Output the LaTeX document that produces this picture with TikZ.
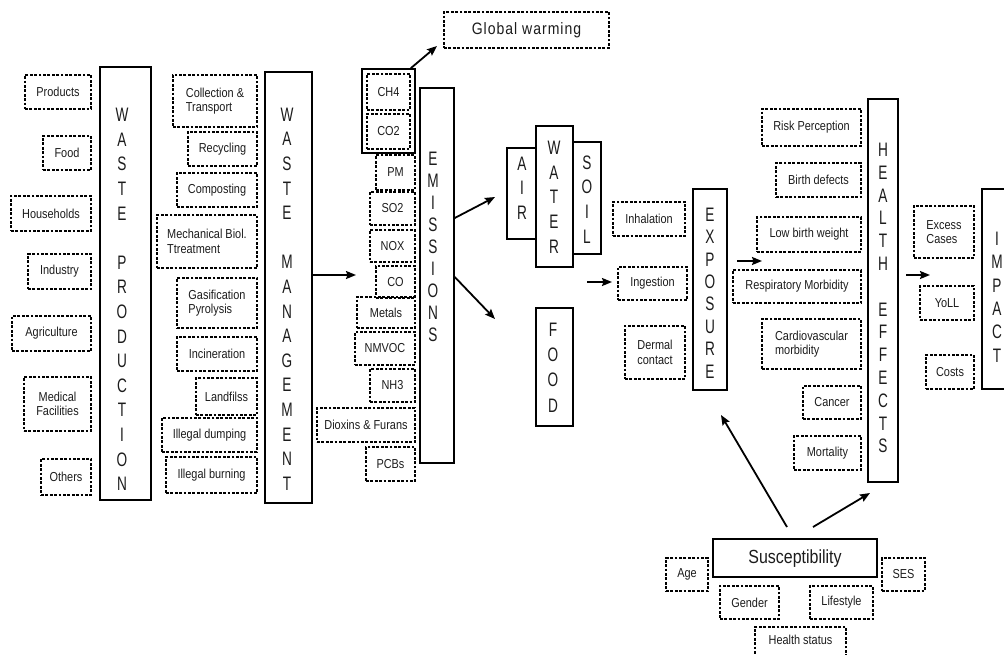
\documentclass[tikz,border=0pt]{standalone}
\usepackage{fontspec}
\setmainfont{Liberation Sans}
\newfontfamily\smf{Liberation Sans}[FakeStretch=0.84]
\newfontfamily\bgf{Liberation Sans}[FakeStretch=0.7]
\newfontfamily\gwf{Liberation Sans}[FakeStretch=0.85,LetterSpace=6]
\usetikzlibrary{arrows.meta}
\definecolor{txt}{HTML}{1C1C1C}
\newcommand\rbox[7]{\node[#1,minimum width={#4-#3},minimum height={#6-#5}] (#2) at ({(#3+#4)/2},{(#5+#6)/2}) {#7};}
\begin{document}
\begin{tikzpicture}[x=1pt,y=-1pt,
  lbl/.style={draw=black, dash pattern=on 2.8pt off 1.6pt, line width=1.35pt, inner sep=0pt,
    font=\smf\fontsize{13}{14.5}\selectfont, text=txt, align=center},
  lbll/.style={lbl, align=left},
  col/.style={draw=black, line width=1.5pt, inner sep=0pt},
  vt/.style={inner sep=0pt, align=center, text=txt},
  arr/.style={-{Stealth[length=10pt,width=8pt,inset=1.5pt]}, line width=1.8pt}]
\useasboundingbox (0,0) rectangle (1004,654);
% ---- waste production
\rbox{lbl}{pr}{25}{91}{75}{109}{Products}
\rbox{lbl}{fo}{43}{91}{136}{170}{Food}
\rbox{lbl}{ho}{11}{91}{196}{231}{Households}
\rbox{lbl}{in}{28}{91}{254}{289}{Industry}
\rbox{lbl}{ag}{12}{91}{316}{351}{Agriculture}
\rbox{lbl}{me}{24}{91}{377}{431}{Medical\\Facilities}
\rbox{lbl}{ot}{41}{91}{459}{495}{Others}
\rbox{col}{wp}{100}{151}{67}{500}{}
\node[vt, font=\bgf\fontsize{19.5}{24.6}\selectfont] (wpt) at (122,299.5) {W\\A\\S\\T\\E\\\mbox{}\\P\\R\\O\\D\\U\\C\\T\\I\\O\\N};
% ---- waste management
\rbox{lbll}{cl}{173}{257}{75}{127}{Collection \&\\Transport}
\rbox{lbl}{re}{188}{257}{132}{166}{Recycling}
\rbox{lbl}{cp}{177}{257}{173}{207}{Composting}
\rbox{lbll}{mb}{157}{257}{215}{268}{Mechanical Biol.\\Ttreatment}
\rbox{lbll}{ga}{177}{257}{278}{328}{Gasification\\Pyrolysis}
\rbox{lbl}{ic}{177}{257}{337}{371}{Incineration}
\rbox{lbl}{la}{196}{257}{378}{415}{Landfilss}
\rbox{lbl}{id}{162}{257}{418}{452}{Illegal dumping}
\rbox{lbl}{ib}{166}{257}{457}{493}{Illegal burning}
\rbox{col}{wm}{265}{312}{72}{503}{}
\node[vt, font=\bgf\fontsize{19.5}{24.6}\selectfont] (wmt) at (287,299) {W\\A\\S\\T\\E\\\mbox{}\\M\\A\\N\\A\\G\\E\\M\\E\\N\\T};
% ---- emissions
\rbox{col}{ghg}{362}{415}{69}{153}{}
\rbox{lbl}{ch}{367}{410}{74}{110}{CH4}
\rbox{lbl}{ct}{367}{410}{114}{149}{CO2}
\rbox{lbl}{pm}{376}{415}{155}{190}{PM}
\rbox{lbl}{so}{370}{415}{192}{225}{SO2}
\rbox{lbl}{nx}{370}{415}{230}{262}{NOX}
\rbox{lbl}{cm}{376}{415}{266}{298}{CO}
\rbox{lbl}{mt}{357}{415}{297}{328}{Metals}
\rbox{lbl}{nm}{355}{415}{332}{365}{NMVOC}
\rbox{lbl}{nh}{370}{415}{369}{402}{NH3}
\rbox{lbl}{di}{317}{415}{408}{442}{Dioxins \& Furans}
\rbox{lbl}{pc}{366}{415}{447}{481}{PCBs}
\rbox{col}{em}{420}{454}{88}{463}{}
\node[vt, font=\bgf\fontsize{19.5}{22}\selectfont] (emt) at (433,247) {E\\M\\I\\S\\S\\I\\O\\N\\S};
\rbox{lbl}{gw}{444}{609}{12}{48}{}
\node[vt, font=\gwf\fontsize{16.5}{18}\selectfont] (gwt) at (526.5,30) {Global warming};
% ---- media
\rbox{col}{air}{507}{536}{148}{239}{}
\rbox{col}{soil}{573}{601}{142}{254}{}
\rbox{col}{water}{536}{573}{126}{267}{}
\rbox{col}{food}{536}{573}{308}{426}{}
\node[vt, font=\bgf\fontsize{19.5}{24.5}\selectfont] at (522,188) {A\\I\\R};
\node[vt, font=\bgf\fontsize{19.5}{24.7}\selectfont] at (554,197) {W\\A\\T\\E\\R};
\node[vt, font=\bgf\fontsize{19.5}{24.7}\selectfont] at (587,199.5) {S\\O\\I\\L};
\node[vt, font=\bgf\fontsize{19.5}{25.3}\selectfont] at (553,367.5) {F\\O\\O\\D};
% ---- exposure
\rbox{lbl}{ih}{613}{685}{202}{236}{Inhalation}
\rbox{lbl}{ig}{618}{687}{267}{300}{Ingestion}
\rbox{lbl}{de}{625}{685}{326}{379}{Dermal\\contact}
\rbox{col}{ex}{693}{727}{189}{390}{}
\node[vt, font=\bgf\fontsize{19.5}{22.4}\selectfont] at (710,293) {E\\X\\P\\O\\S\\U\\R\\E};
% ---- health effects
\rbox{lbl}{rp}{762}{861}{109}{146}{Risk Perception}
\rbox{lbl}{bd}{776}{861}{163}{197}{Birth defects}
\rbox{lbl}{lb}{757}{861}{217}{252}{Low birth weight}
\rbox{lbl}{rm}{733}{861}{270}{303}{Respiratory Morbidity}
\rbox{lbll}{cv}{762}{861}{319}{369}{Cardiovascular\\morbidity}
\rbox{lbl}{ca}{803}{861}{386}{419}{Cancer}
\rbox{lbl}{mo}{794}{861}{436}{470}{Mortality}
\rbox{col}{he}{868}{898}{99}{482}{}
\node[vt, font=\bgf\fontsize{19.5}{22.8}\selectfont] at (883,298) {H\\E\\A\\L\\T\\H\\\mbox{}\\E\\F\\F\\E\\C\\T\\S};
% ---- impact
\rbox{lbll}{ec}{914}{974}{206}{258}{Excess\\Cases}
\rbox{lbl}{yo}{920}{974}{286}{320}{YoLL}
\rbox{lbl}{cs}{926}{974}{355}{389}{Costs}
\rbox{col}{im}{982}{1012}{189}{389}{}
\node[vt, font=\bgf\fontsize{19.5}{23.4}\selectfont] at (997,297) {I\\M\\P\\A\\C\\T};
% ---- susceptibility
\rbox{col}{su}{713}{877}{539}{577}{}
\node[vt, font=\smf\fontsize{19}{20}\selectfont] at (795,559) {Susceptibility};
\rbox{lbl}{age}{666}{708}{558}{591}{Age}
\rbox{lbl}{ses}{882}{925}{558}{591}{SES}
\rbox{lbl}{ge}{720}{779}{586}{619}{Gender}
\rbox{lbl}{ls}{810}{873}{586}{619}{Lifestyle}
\rbox{lbl}{hs}{755}{846}{627}{663}{}
\node[vt, font=\smf\fontsize{13}{14.5}\selectfont] at (800.5,640) {Health status};
% ---- arrows
\coordinate (t1) at (356,275);
\draw[arr] (wm.east |- t1) -- (t1);
\coordinate (t2) at (437,46);
\draw[arr] ([xshift=-5pt]ghg.north east) -- (t2);
\coordinate (s3) at (454,218); \coordinate (t3) at (495,197);
\draw[arr] (em.east |- s3) -- (t3);
\coordinate (s4) at (454,277); \coordinate (t4) at (495,319);
\draw[arr] (em.east |- s4) -- (t4);
\coordinate (s5) at (587,282); \coordinate (t5) at (612,282);
\draw[arr] (s5) -- (t5);
\coordinate (s6) at (737,261); \coordinate (t6) at (762,261);
\draw[arr] (s6) -- (t6);
\coordinate (s7) at (906,275); \coordinate (t7) at (930,275);
\draw[arr] (s7) -- (t7);
\coordinate (s8) at (787,527); \coordinate (t8) at (721,415);
\draw[arr] (s8) -- (t8);
\coordinate (s9) at (813,527); \coordinate (t9) at (870,493);
\draw[arr] (s9) -- (t9);
\end{tikzpicture}
\end{document}
